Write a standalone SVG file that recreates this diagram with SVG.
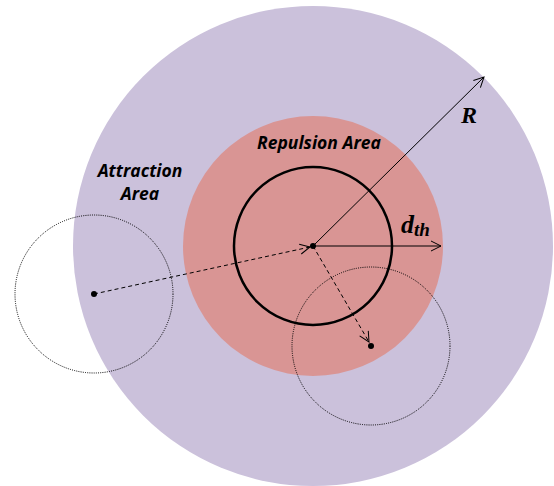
<svg xmlns="http://www.w3.org/2000/svg" width="554" height="486" viewBox="0 0 554 486">
<style>
.lbl{font-family:"Open Sans","Liberation Sans",sans-serif;font-weight:bold;font-style:italic;font-size:17.5px;fill:#000}
.math{font-family:"Liberation Serif","DejaVu Serif",serif;font-weight:bold;font-style:italic;fill:#000}
.dot{fill:#000}
.ghost{fill:none;stroke:#000;stroke-width:1;stroke-dasharray:1 1.2}
</style>
<defs>
<marker id="arr" viewBox="0 0 12 12" refX="11" refY="6" markerWidth="12" markerHeight="12" markerUnits="userSpaceOnUse" orient="auto">
<path d="M1,1 L11,6 L1,11" fill="none" stroke="#000" stroke-width="1"/>
</marker>
</defs>
<rect width="554" height="486" fill="#fff"/>
<g id="attraction">
<circle cx="313" cy="246" r="240" fill="#CBC1DB"/>
<text class="lbl" x="140" y="177" text-anchor="middle">Attraction</text>
<text class="lbl" x="140" y="200" text-anchor="middle">Area</text>
</g>
<g id="repulsion">
<circle cx="313" cy="246" r="130" fill="#D99594"/>
<text class="lbl" x="319" y="149" text-anchor="middle">Repulsion Area</text>
</g>
<g id="threshold">
<circle cx="313" cy="246" r="79" fill="none" stroke="#000" stroke-width="2.5"/>
</g>
<g id="agent-left">
<circle class="ghost" cx="94" cy="294" r="79"/>
<circle class="dot" cx="94" cy="294" r="3"/>
</g>
<g id="agent-right">
<circle class="ghost" cx="371" cy="346" r="79"/>
<circle class="dot" cx="371" cy="346" r="3"/>
</g>
<g id="center">
<circle class="dot" cx="313" cy="246" r="3"/>
</g>
<g id="connectors">
<line x1="313" y1="246" x2="484" y2="77" stroke="#000" stroke-width="1" marker-end="url(#arr)"/>
<line x1="313" y1="246" x2="441" y2="246" stroke="#000" stroke-width="1.2" marker-end="url(#arr)"/>
<line x1="94" y1="294" x2="310" y2="247" stroke="#000" stroke-width="1" stroke-dasharray="4 3" marker-end="url(#arr)"/>
<line x1="313" y1="246" x2="369" y2="342" stroke="#000" stroke-width="1" stroke-dasharray="4 3" marker-end="url(#arr)"/>
</g>
<g id="labels">
<text class="math" x="461" y="123" font-size="24">R</text>
<text class="math" x="401" y="233" font-size="26">d<tspan font-size="19" dy="3">th</tspan></text>
</g>
</svg>
